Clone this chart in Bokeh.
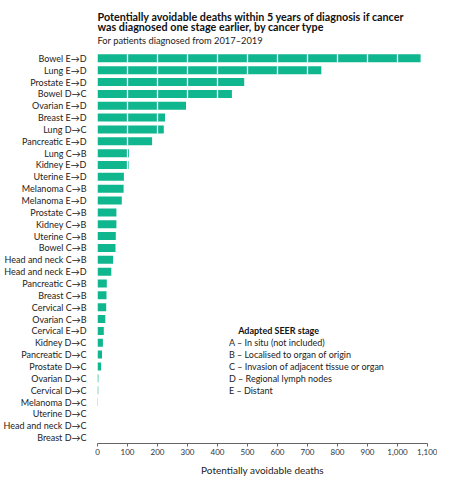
from bokeh.plotting import figure
from bokeh.models import Range1d, FixedTicker, NumeralTickFormatter, Label
from bokeh.embed import file_html
from bokeh.resources import INLINE

# data, top to bottom as in the chart
labels = ["Bowel E→D", "Lung E→D", "Prostate E→D", "Bowel D→C", "Ovarian E→D",
          "Breast E→D", "Lung D→C", "Pancreatic E→D", "Lung C→B", "Kidney E→D",
          "Uterine E→D", "Melanoma C→B", "Melanoma E→D", "Prostate C→B", "Kidney C→B",
          "Uterine C→B", "Bowel C→B", "Head and neck C→B", "Head and neck E→D",
          "Pancreatic C→B", "Breast C→B", "Cervical C→B", "Ovarian C→B", "Cervical E→D",
          "Kidney D→C", "Pancreatic D→C", "Prostate D→C", "Ovarian D→C", "Cervical D→C",
          "Melanoma D→C", "Uterine D→C", "Head and neck D→C", "Breast D→C"]
deaths = [1077, 746, 489, 448, 295, 225, 221, 182, 105, 104, 88, 87, 81, 63, 63,
          61, 60, 52, 46, 31, 30, 29, 26, 21, 18, 15, 12, 3, 2.5, 1.5, 0, 0, 0]
x_ticks = list(range(0, 1101, 100))

title_lines = ["Potentially avoidable deaths within 5 years of diagnosis if cancer",
               "was diagnosed one stage earlier, by cancer type"]
subtitle = "For patients diagnosed from 2017–2019"
legend_title = "Adapted SEER stage"
legend_items = ["A – In situ (not included)", "B – Localised to organ of origin",
                "C – Invasion of adjacent tissue or organ", "D – Regional lymph nodes",
                "E – Distant"]

FONT = "Lato"
GREEN = "#10b68e"
n = len(labels)
rows = list(range(n))
ROW_H = 11.848      # px per row
TOP_PX = 43.9       # room for the title above the first row
FH = 435

# rows run top to bottom, so the y range is reversed; the extra room on top
# holds the title block inside the frame
p = figure(frame_width=330, frame_height=FH,
           y_range=Range1d(n - 0.5, -0.5 - TOP_PX / ROW_H),
           x_range=(0, 1100), output_backend="svg", toolbar_location=None,
           min_border_left=97, min_border_right=10, min_border_top=8,
           min_border_bottom=34)

p.hbar(y=rows, right=deaths, left=0, height=0.675, color=GREEN, line_color=None)

# white separators every 100 inside each bar
sep_x, sep_y = [], []
for r, d in zip(rows, deaths):
    for t in x_ticks[1:]:
        if t < d:
            sep_x.append(t)
            sep_y.append(r)
p.rect(x=sep_x, y=sep_y, width=1.3, width_units="screen", height=0.675,
       color="white", line_color=None)

p.xgrid.grid_line_color = None
p.ygrid.grid_line_color = None
p.outline_line_color = None

p.xaxis.ticker = FixedTicker(ticks=x_ticks)
p.xaxis.formatter = NumeralTickFormatter(format="0,0")
p.xaxis.axis_label = "Potentially avoidable deaths"
p.xaxis.axis_label_text_font = FONT
p.xaxis.axis_label_text_font_style = "normal"
p.xaxis.axis_label_text_font_size = "10px"
p.xaxis.axis_label_text_color = "#222222"
p.xaxis.axis_label_standoff = 6
p.xaxis.major_label_text_font = FONT
p.xaxis.major_label_text_font_size = "8px"
p.xaxis.major_label_text_color = "#333333"
p.xaxis.major_label_standoff = 2
p.xaxis.major_tick_in = 0
p.xaxis.major_tick_out = 3
p.xaxis.minor_tick_line_color = None
p.xaxis.axis_line_color = "#666666"
p.xaxis.major_tick_line_color = "#666666"

p.yaxis.ticker = FixedTicker(ticks=rows)
p.yaxis.major_label_overrides = {r: lab for r, lab in zip(rows, labels)}
p.yaxis.axis_line_color = None
p.yaxis.major_tick_line_color = None
p.yaxis.minor_tick_line_color = None
p.yaxis.major_label_text_font = FONT
p.yaxis.major_label_text_font_size = "9px"
p.yaxis.major_label_text_color = "#222222"
p.yaxis.major_label_standoff = 5

# stage key, lined up with rows 23.. on the right
p.add_layout(Label(x=469, y=23, text=legend_title, text_font=FONT,
                   text_font_style="bold", text_font_size="9px",
                   text_baseline="middle", text_color="#111111"))
for k, item in enumerate(legend_items):
    p.add_layout(Label(x=438, y=24 + k, text=item, text_font=FONT,
                       text_font_size="9px", text_baseline="middle",
                       text_color="#222222"))

# title block: baselines given in px above the first row's top edge
def px_above(px):
    return -0.5 - px / ROW_H

for line, up in zip(title_lines, [36.2, 25.9]):
    p.add_layout(Label(x=0, y=px_above(up), text=line, text_font=FONT,
                       text_font_style="bold", text_font_size="10.75px",
                       text_baseline="alphabetic", text_color="#111111"))
p.add_layout(Label(x=0, y=px_above(11.6), text=subtitle, text_font=FONT,
                   text_font_size="9.3px", text_baseline="alphabetic",
                   text_color="#222222"))

open("out.html", "w").write(file_html(p, INLINE))
